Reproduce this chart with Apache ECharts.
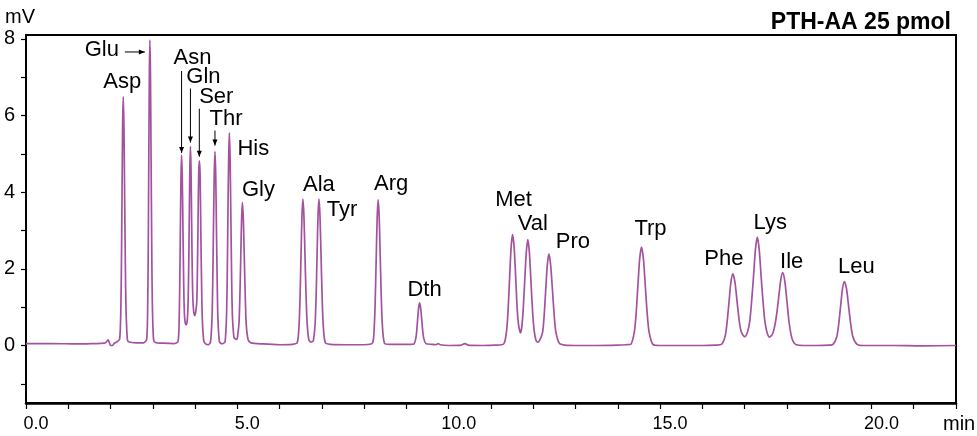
<!DOCTYPE html>
<html>
<head>
<meta charset="utf-8">
<script src="https://cdn.jsdelivr.net/npm/echarts@6/dist/echarts.min.js"></script>
<style>
html, body { margin: 0; padding: 0; background: #fff; }
#main { width: 977px; height: 436px; }
</style>
</head>
<body>
<div id="main"></div>
<script>
var peakNames = ['Asp', 'Glu', 'Asn', 'Gln', 'Ser', 'Thr', 'His', 'Gly', 'Ala', 'Tyr',
	'Arg', 'Dth', 'Met', 'Val', 'Pro', 'Trp', 'Phe', 'Lys', 'Ile', 'Leu'];
var peakTimes = [2.30, 2.93, 3.68, 3.89, 4.10, 4.47, 4.81, 5.12, 6.55, 6.93,
	8.33, 9.31, 11.51, 11.87, 12.37, 14.56, 16.72, 17.30, 17.90, 19.36];
var peakHeights = [6.49, 7.97, 4.97, 5.19, 4.82, 5.06, 5.55, 3.73, 3.82, 3.82,
	3.80, 1.11, 2.89, 2.76, 2.39, 2.57, 1.87, 2.83, 1.90, 1.67];

var xTicks = [0, 1, 2, 3, 4, 5, 6, 7, 8, 9, 10, 11, 12, 13, 14, 15, 16, 17, 18, 19, 20, 21, 22];
var xTickLabels = [0, 5, 10, 15, 20];
var yTicks = [-1, 0, 1, 2, 3, 4, 5, 6, 7, 8];
var yTickLabels = [0, 2, 4, 6, 8];

// detector trace [min, mV]
var trace = [
	[0, 0.05], [0.6, 0.05], [1.2, 0.04], [1.6, 0.05], [1.85, 0.06], [1.9, 0.09], [1.94, 0.15], [1.97, 0.08], [2.0, 0.0], [2.04, 0.0], [2.09, 0.06], [2.16, 0.1],
	[2.216, 0.17], [2.244, 0.97], [2.258, 2.18], [2.272, 3.98], [2.286, 5.75], [2.30, 6.49], [2.317, 5.73], [2.333, 3.96], [2.35, 2.16], [2.366, 0.95], [2.399, 0.15], [2.44, 0.09], [2.6, 0.07], [2.78, 0.07],
	[2.855, 0.16], [2.88, 1.14], [2.893, 2.64], [2.905, 4.86], [2.918, 7.04], [2.93, 7.97], [2.945, 7.04], [2.959, 4.86], [2.974, 2.64], [2.988, 1.14], [3.017, 0.16], [3.06, 0.08], [3.25, 0.06], [3.5, 0.05],
	[3.596, 0.10], [3.624, 0.72], [3.638, 1.65], [3.652, 3.03], [3.666, 4.39], [3.68, 4.97], [3.697, 4.39], [3.713, 3.03], [3.73, 1.65], [3.746, 0.85], [3.765, 0.6], [3.79, 0.54], [3.815, 0.66],
	[3.834, 1.11], [3.848, 1.94], [3.862, 3.27], [3.876, 4.6], [3.89, 5.19], [3.904, 4.6], [3.918, 3.27], [3.932, 2.0], [3.946, 1.25], [3.965, 0.9], [3.99, 0.78], [4.015, 0.88],
	[4.04, 1.15], [4.055, 1.96], [4.07, 3.21], [4.085, 4.49], [4.10, 4.82], [4.118, 4.5], [4.135, 3.0], [4.153, 1.65], [4.17, 0.72], [4.205, 0.12], [4.25, 0.04], [4.31, 0.02],
	[4.365, 0.09], [4.40, 0.71], [4.418, 1.66], [4.435, 3.08], [4.453, 4.47], [4.47, 5.06], [4.488, 4.47], [4.505, 3.08], [4.523, 1.66], [4.54, 0.71], [4.575, 0.1], [4.62, 0.05], [4.66, 0.05],
	[4.711, 0.11], [4.744, 0.79], [4.761, 1.84], [4.777, 3.39], [4.794, 4.90], [4.81, 5.55], [4.828, 4.9], [4.846, 3.39], [4.864, 1.84], [4.882, 0.8], [4.918, 0.22], [4.95, 0.17], [4.98, 0.16],
	[5.0, 0.2], [5.04, 0.61], [5.06, 1.29], [5.08, 2.3], [5.10, 3.3], [5.12, 3.73], [5.143, 3.24], [5.165, 2.24], [5.188, 1.23], [5.21, 0.55], [5.255, 0.15], [5.32, 0.07], [5.6, 0.04], [6.0, 0.02], [6.3, 0.03],
	[6.415, 0.07], [6.46, 0.54], [6.483, 1.26], [6.505, 2.33], [6.528, 3.37], [6.55, 3.82], [6.575, 3.37], [6.60, 2.33], [6.625, 1.3], [6.65, 0.6], [6.69, 0.15], [6.74, 0.09],
	[6.795, 0.12], [6.84, 0.58], [6.863, 1.28], [6.885, 2.34], [6.908, 3.38], [6.93, 3.82], [6.955, 3.37], [6.98, 2.33], [7.005, 1.26], [7.03, 0.55], [7.08, 0.07], [7.2, 0.03], [7.6, 0.02], [8.0, 0.02],
	[8.195, 0.06], [8.24, 0.53], [8.263, 1.25], [8.285, 2.31], [8.308, 3.36], [8.33, 3.80], [8.355, 3.36], [8.38, 2.31], [8.405, 1.25], [8.43, 0.53], [8.48, 0.06], [8.6, 0.03], [8.8, 0.03], [9.05, 0.03],
	[9.175, 0.04], [9.22, 0.18], [9.243, 0.38], [9.265, 0.69], [9.288, 0.98], [9.31, 1.11], [9.335, 0.98], [9.36, 0.69], [9.385, 0.38], [9.41, 0.18], [9.46, 0.05], [9.6, 0.03],
	[9.7, 0.02], [9.75, 0.05], [9.8, 0.02], [10.0, 0.0], [10.3, 0.01], [10.38, 0.05], [10.46, 0.01], [10.8, 0.0], [11.1, 0.01],
	[11.30, 0.04], [11.37, 0.4], [11.405, 0.94], [11.44, 1.76], [11.475, 2.55], [11.51, 2.89], [11.548, 2.55], [11.585, 1.76], [11.62, 0.95], [11.655, 0.52], [11.70, 0.33],
	[11.73, 0.5], [11.765, 1.0], [11.80, 1.74], [11.835, 2.43], [11.87, 2.76], [11.908, 2.43], [11.945, 1.68], [11.983, 0.9], [12.02, 0.4], [12.06, 0.15], [12.10, 0.09],
	[12.145, 0.12], [12.22, 0.34], [12.258, 0.79], [12.295, 1.46], [12.333, 2.11], [12.37, 2.39], [12.41, 2.11], [12.453, 1.46], [12.495, 0.79], [12.536, 0.34], [12.62, 0.05], [12.75, 0.01], [13.0, 0.0], [13.5, 0.0], [14.0, 0.01], [14.2, 0.02],
	[14.305, 0.03], [14.39, 0.35], [14.433, 0.83], [14.475, 1.56], [14.518, 2.27], [14.56, 2.57], [14.605, 2.27], [14.65, 1.56], [14.695, 0.83], [14.74, 0.35], [14.83, 0.03], [15.0, 0.0], [15.5, 0.0], [16.0, 0.0], [16.3, 0.01],
	[16.45, 0.03], [16.54, 0.25], [16.585, 0.61], [16.63, 1.13], [16.675, 1.65], [16.72, 1.87], [16.77, 1.66], [16.82, 1.16], [16.87, 0.66], [16.92, 0.36], [17.0, 0.23],
	[17.07, 0.36], [17.12, 0.62], [17.165, 1.15], [17.21, 1.8], [17.255, 2.5], [17.30, 2.83], [17.345, 2.5], [17.39, 1.8], [17.435, 1.15], [17.48, 0.62], [17.53, 0.34], [17.59, 0.22],
	[17.66, 0.3], [17.71, 0.5], [17.758, 0.82], [17.805, 1.25], [17.853, 1.7], [17.90, 1.90], [17.95, 1.68], [18.0, 1.16], [18.05, 0.62], [18.10, 0.27], [18.15, 0.1], [18.22, 0.02], [18.4, 0.0], [18.7, 0.0], [19.0, 0.01],
	[19.09, 0.03], [19.18, 0.23], [19.225, 0.55], [19.27, 1.02], [19.315, 1.48], [19.36, 1.67], [19.41, 1.48], [19.46, 1.02], [19.51, 0.55], [19.56, 0.23], [19.66, 0.03], [19.8, 0.0], [20.5, 0.0], [21.2, -0.01], [22, 0.0]
];

// label centre, in px relative to the peak apex
var labelShift = {
	Asp: [-1, -15], Glu: [-48, 10], Asn: [11, -97], Gln: [13, -70], Ser: [17, -64],
	Thr: [11, -33], His: [24, 16], Gly: [16, -13], Ala: [16, -14], Tyr: [23, 11],
	Arg: [13, -16], Dth: [5, -13], Met: [1, -35], Val: [5, -16], Pro: [24, -12],
	Trp: [9, -18], Phe: [-9, -15], Lys: [13, -14], Ile: [9, -11], Leu: [12, -15]
};
// arrows: [x1, y1, x2, y2] relative to the apex, head at the second point
var arrowShift = {
	Glu: [-25, 12, -5, 12],
	Asn: [0, -84, 0, -2],
	Gln: [0, -58, 0, -4],
	Ser: [0, -52, 0, -4],
	Thr: [0, -21, 0, -6]
};

var fontName = '"Liberation Sans", Arial, sans-serif';
var lineColor = '#a4529f';

var chart = echarts.init(document.getElementById('main'));

var option = {
	animation: false,
	backgroundColor: '#fff',
	title: {
		text: 'PTH-AA 25 pmol',
		right: 21,
		top: 6,
		textStyle: { fontFamily: fontName, fontSize: 23, fontWeight: 'bold', color: '#000' }
	},
	grid: {
		left: 26, right: 21, top: 35, bottom: 33,
		show: true, borderColor: '#000', borderWidth: 2
	},
	xAxis: {
		type: 'value', min: 0, max: 22,
		axisLine: { onZero: false, lineStyle: { color: '#000', width: 2.5 } },
		axisTick: { customValues: xTicks, length: 6, lineStyle: { color: '#000', width: 1.2 } },
		axisLabel: {
			customValues: xTickLabels,
			formatter: function (v) { return v.toFixed(1); },
			color: '#000', fontFamily: fontName, fontSize: 18, margin: 12,
			padding: [0, 0, 0, 20]
		},
		splitLine: { show: false }
	},
	yAxis: {
		type: 'value', min: -1.5, max: 8.1,
		axisLine: { show: true, onZero: false, lineStyle: { color: '#000', width: 2 } },
		axisTick: { show: true, customValues: yTicks, length: 5, lineStyle: { color: '#000', width: 1.2 } },
		axisLabel: { customValues: yTickLabels, color: '#000', fontFamily: fontName, fontSize: 20, margin: 11 },
		splitLine: { show: false }
	},
	series: [{
		type: 'line',
		data: trace,
		showSymbol: false,
		symbol: 'none',
		smooth: 0.25,
		lineStyle: { color: lineColor, width: 1.7 }
	}]
};
chart.setOption(option);

var graphics = [
	{ type: 'text', left: 5, top: 7, style: { text: 'mV', font: '20px ' + fontName, fill: '#000' } },
	{ type: 'text', left: 943, top: 414, style: { text: 'min', font: '20px ' + fontName, fill: '#000' } }
];

peakNames.forEach(function (name, i) {
	var p = chart.convertToPixel({ gridIndex: 0 }, [peakTimes[i], peakHeights[i]]);
	var s = labelShift[name];
	graphics.push({
		type: 'text', x: p[0] + s[0], y: p[1] + s[1],
		style: { text: name, font: '22px ' + fontName, fill: '#000', textAlign: 'center', textVerticalAlign: 'middle' }
	});
	var a = arrowShift[name];
	if (a) {
		var x1 = p[0] + a[0], y1 = p[1] + a[1], x2 = p[0] + a[2], y2 = p[1] + a[3];
		var head;
		if (a[1] == a[3]) {
			head = [[x2, y2], [x2 - 6, y2 - 2.5], [x2 - 6, y2 + 2.5]];
		} else {
			head = [[x2, y2], [x2 - 2.5, y2 - 6], [x2 + 2.5, y2 - 6]];
		}
		graphics.push({ type: 'line', shape: { x1: x1, y1: y1, x2: x2, y2: y2 }, style: { stroke: '#000', lineWidth: 1 } });
		graphics.push({ type: 'polygon', shape: { points: head }, style: { fill: '#000' } });
	}
});

chart.setOption({ graphic: graphics });
</script>
</body>
</html>
